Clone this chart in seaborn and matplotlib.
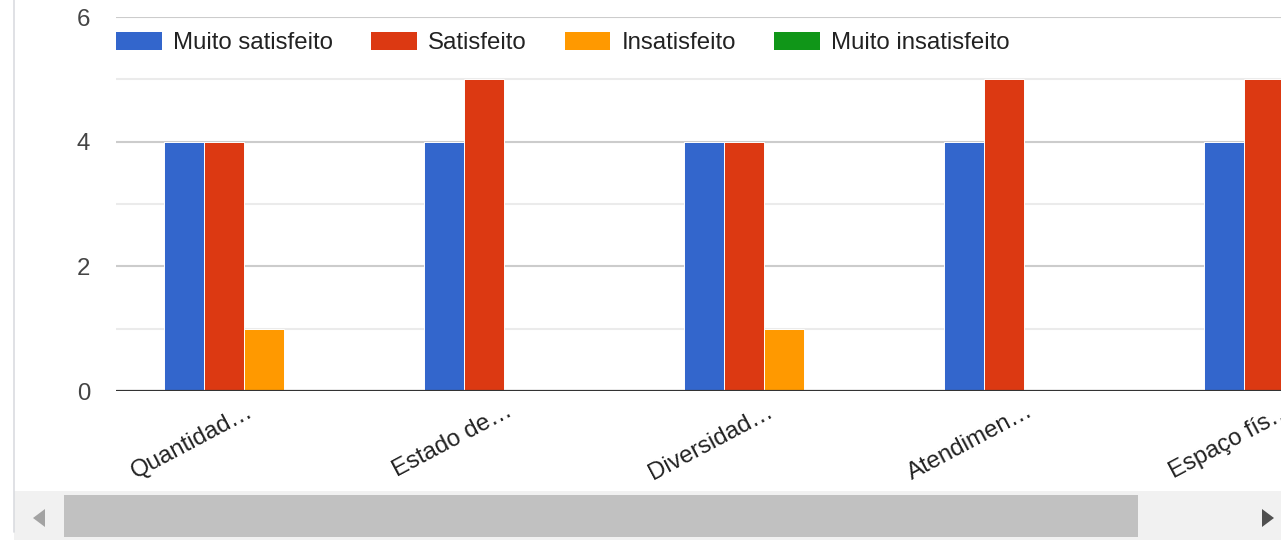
import pandas as pd
import matplotlib
matplotlib.use("Agg")
import matplotlib.pyplot as plt
import seaborn as sns
from matplotlib.patches import Rectangle, Polygon, Patch
from matplotlib.lines import Line2D
from matplotlib.transforms import ScaledTranslation

# data
categorias = ["Quantidad…", "Estado de…", "Diversidad…", "Atendimen…", "Espaço fís…"]
niveis = ["Muito satisfeito", "Satisfeito", "Insatisfeito", "Muito insatisfeito"]
muito_satisfeito = [4, 4, 4, 4, 4]
satisfeito = [4, 5, 4, 5, 5]
insatisfeito = [1, 0, 1, 0, 0]
muito_insatisfeito = [0, 0, 0, 0, 0]
cores = ["#3366cc", "#dc3912", "#ff9900", "#109618"]

series = [muito_satisfeito, satisfeito, insatisfeito, muito_insatisfeito]
rows = []
for nivel, vals in zip(niveis, series):
    for cat, v in zip(categorias, vals):
        rows.append({"categoria": cat, "nivel": nivel, "valor": v})
df = pd.DataFrame(rows)

sns.set_style("white")
plt.rcParams["font.family"] = ["Liberation Sans", "DejaVu Sans"]

W, H = 1281, 540
fig = plt.figure(figsize=(W / 100, H / 100), dpi=100)
ax = fig.add_axes([116 / W, 149 / H, 1 - 116 / W, 374 / H])

sns.barplot(data=df, x="categoria", y="valor", hue="nivel", hue_order=niveis,
            order=categorias, palette=cores, width=0.615, saturation=1,
            edgecolor="white", linewidth=0.7, legend=False, ax=ax)

ax.set_ylim(0, 6)
ax.set_xlim(-0.492, 3.988)
ax.set_yticks([0, 2, 4, 6])
ax.set_yticks([1, 3, 5], minor=True)
ax.set_axisbelow(True)
ax.grid(which="major", axis="y", color="#cccccc", lw=1.5)
ax.grid(which="minor", axis="y", color="#ebebeb", lw=1.5)
ax.grid(axis="x", visible=False)
ax.axhline(0, color="#333333", lw=2.3, zorder=5)
for s in ax.spines.values():
    s.set_visible(False)
ax.set_xlabel("")
ax.set_ylabel("")
ax.tick_params(axis="y", which="both", length=0, pad=18.7, labelsize=17.3, labelcolor="#444444")

# category labels (the last one runs past the right edge, as in the scrolled chart)
ax.set_xticks([])
lbl_tr = ax.get_xaxis_transform() + ScaledTranslation(2 / 100, -9 / 100, fig.dpi_scale_trans)
for i, cat in enumerate(categorias):
    ax.text(i, 0, cat, transform=lbl_tr, rotation=28, rotation_mode="anchor",
            ha="right", va="top", fontsize=17.3, color="#222222", clip_on=False)

handles = [Patch(facecolor=c, edgecolor="none") for c in cores]
ax.legend(handles, niveis, ncol=4, loc="center left", bbox_to_anchor=(0, (391 - 43) / 374),
          frameon=False, fontsize=17.3, handlelength=1.9, handleheight=0.82,
          handletextpad=0.46, columnspacing=1.59, borderpad=0, borderaxespad=0,
          labelcolor="#222222")

# scrollbar and container border
def fy(y):
    return 1 - y / H

fig.add_artist(Line2D([13.5 / W, 13.5 / W], [fy(0), fy(532)], color="#dadce0", lw=1.2))
fig.add_artist(Rectangle((14 / W, 0), 1 - 14 / W, (H - 491) / H,
                         transform=fig.transFigure, facecolor="#f1f1f1", edgecolor="none"))
fig.add_artist(Rectangle((64 / W, fy(537)), (1138 - 64) / W, (537 - 495) / H,
                         transform=fig.transFigure, facecolor="#c1c1c1", edgecolor="none"))
fig.add_artist(Polygon([(33 / W, fy(518)), (45 / W, fy(509)), (45 / W, fy(527))],
                       transform=fig.transFigure, facecolor="#a3a3a3", edgecolor="none"))
fig.add_artist(Polygon([(1274 / W, fy(518)), (1262 / W, fy(509)), (1262 / W, fy(527))],
                       transform=fig.transFigure, facecolor="#505050", edgecolor="none"))

fig.savefig("out.png", dpi=100)
